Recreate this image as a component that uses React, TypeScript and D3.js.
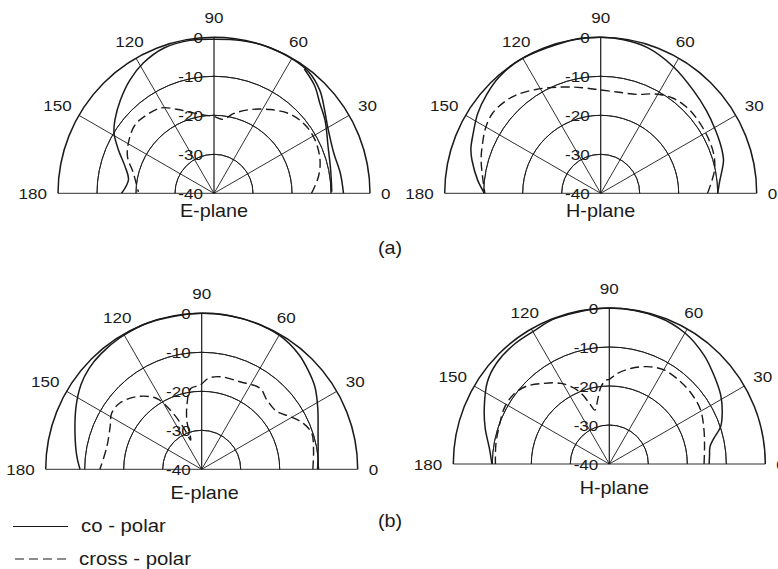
import React from "react";
import * as d3 from "d3";

// ---------- data ----------
const angleTicks = [0, 30, 60, 90, 120, 150, 180];
const ringTicks = [0, -10, -20, -30, -40];
const planeLabels = ["E-plane", "H-plane", "E-plane", "H-plane"];
const caseLabels = ["(a)", "(b)"];
const legendLabels = ["co - polar", "cross - polar"];

// [angle (deg), level (dB)]
const eaCo: [number, number][] = [
  [0, -6.8], [9, -7.2], [18.5, -7.6], [30, -6.3], [37, -4.5], [44, -2.2],
  [52, -0.5], [60, -0.1], [70, 0], [80, -0.2], [90, -0.5], [99, -0.3], [109, -0.6],
  [118.5, -2.0], [126.5, -3.8], [135, -6.1], [143.5, -8.4], [149, -10.1], [155.6, -13.1],
  [163.3, -16.2], [171, -17.8], [180, -16.3],
];
const eaCoInner: [number, number][] = [
  [0.8, -9.8], [11.3, -9.5], [22.2, -8.4], [33.4, -5.9], [40.3, -4.4], [47, -2.2], [54, -0.6],
];
const eaX: [number, number][] = [
  [0, -15], [9, -12.9], [17.5, -11.5], [28, -10.7], [37, -10.8], [46, -11.8], [56, -14.1],
  [67, -16.7], [76, -18.9], [83, -20.9], [90, -20.3], [97, -19.8], [104, -18.8], [114, -16.4],
  [122, -14.2], [131, -13.5], [139, -13.2], [148, -14.3], [157, -15.9], [166, -18.7], [179, -20.6],
];
const haCo: [number, number][] = [
  [0, -10], [6, -9.3], [10, -8.5], [15, -7.4], [21, -6.9], [29, -6.4], [38, -5.6], [48, -4.5],
  [60, -2.6], [72, -0.8], [82, -0.2], [90, 0], [100, 0], [121, 0], [131, -0.4], [139, -1.3],
  [147, -2.4], [155, -3.9], [161, -4.8], [165.5, -5.9], [174, -8.3], [180, -10.2],
];
const haX: [number, number][] = [
  [0, -12.6], [11.6, -10.2], [19.5, -9.3], [28, -9.0], [37, -8.8], [45, -8.8], [53, -9.4],
  [61, -10.9], [70, -13], [81, -13.7], [90, -13.5], [100, -12.5], [110, -11], [122, -8.6],
  [131, -6.7], [137, -5.9], [143.5, -5.5], [150, -6.0], [157, -7.1], [164, -8.1], [172, -9.4],
  [180, -10.3],
];
const ebCo: [number, number][] = [
  [0, -10.3], [6, -10], [17, -8.8], [28, -6.3], [36, -4.1], [43, -2.7], [50, -1.4], [60, -0.3],
  [75, 0], [90, 0], [110, 0], [122, -0.3], [131, -0.7], [138, -1.2], [145, -2.2], [153.5, -4],
  [164, -6.2], [174, -7.8], [180, -8.8],
];
const ebX: [number, number][] = [
  [0, -11.5], [9.8, -10.9], [18, -10.3], [24.3, -11.4], [30.8, -13.6], [37.6, -15.7],
  [46.8, -15.6], [54.2, -14.4], [66.4, -15.5], [78.8, -15.8], [85.8, -16.6], [91, -18.4],
  [97.7, -19.1], [102.5, -22.7], [107, -27], [110.5, -32], [113.5, -28.5], [117, -23.9],
  [122.4, -18.5], [131.8, -15], [141, -13], [148, -12.8], [155, -14.1], [166.6, -15], [180, -13.9],
];
const hbCo: [number, number][] = [
  [0, -14.4], [5, -14.2], [9.8, -13.8], [13.8, -12.4], [18.5, -9.9], [24.8, -8.1], [31.8, -6.4],
  [40.4, -4.8], [49, -3], [60, -1.2], [72, -0.3], [90, 0], [110, -0.2], [120, -0.8], [128, -0.8],
  [138, -1.2], [146, -2.3], [156, -4.9], [164, -6.9], [172.6, -9], [180, -9.9],
];
const hbX: [number, number][] = [
  [0, -15.7], [11.3, -15.1], [20.6, -14.1], [30.6, -12.8], [39.7, -12.3], [49.1, -12.1],
  [59.8, -12.1], [68.7, -13.2], [77.4, -14.9], [85, -16.7], [90, -18.3], [92.3, -18.5],
  [96.2, -20.1], [100.3, -23.3], [105, -25.7], [108.2, -23.6], [111.1, -21], [114.8, -18.6],
  [120.9, -15.9], [129.6, -13.2], [137.1, -10.8], [144.5, -9.6], [152, -9.5], [162, -10.2],
  [170.5, -10.5], [180, -10.8],
];

// ---------- layout ----------
const W = 778;
const H = 569;
const R = 156;
const INK = "#1a1a1a";
const FONT = "'Liberation Sans', Arial, Helvetica, sans-serif";

const panels = [
  { cx: 214, cy: 193.3, co: [eaCo, eaCoInner], x: eaX, label: planeLabels[0], ly: 24, lx: 0 },
  { cx: 600.7, cy: 193.3, co: [haCo], x: haX, label: planeLabels[1], ly: 24, lx: 0 },
  { cx: 201.7, cy: 469.3, co: [ebCo], x: ebX, label: planeLabels[2], ly: 30, lx: 3 },
  { cx: 609.3, cy: 464, co: [hbCo], x: hbX, label: planeLabels[3], ly: 30, lx: 5 },
];

const rScale = d3.scaleLinear().domain([-40, 0]).range([0, R]);
const toRad = (deg: number) => (deg * Math.PI) / 180;

const radial = d3
  .lineRadial<[number, number]>()
  .angle((d) => Math.PI / 2 - toRad(d[0]))
  .radius((d) => rScale(d[1]))
  .curve(d3.curveCatmullRom.alpha(0.5));

const arc = (r: number) =>
  d3.arc()({ innerRadius: r, outerRadius: r, startAngle: -Math.PI / 2, endAngle: Math.PI / 2 }) as string;

function T(props: {
  x: number; y: number; size: number; anchor?: string; children: React.ReactNode; sx?: number;
}) {
  const { x, y, size, anchor = "middle", children, sx = 1.1 } = props;
  return (
    <text
      transform={`translate(${x},${y}) scale(${sx},1)`}
      textAnchor={anchor}
      fontSize={size}
      fontFamily={FONT}
      fill={INK}
    >
      {children}
    </text>
  );
}

function Panel({ p }: { p: (typeof panels)[number] }) {
  const { cx, cy } = p;
  const tickSize = 15.5;
  return (
    <g transform={`translate(${cx},${cy})`}>
      {ringTicks.slice(1, 4).map((t) => (
        <path key={t} d={arc(rScale(t))} fill="none" stroke={INK} strokeWidth={0.9} />
      ))}
      {angleTicks.map((a) => (
        <line
          key={a}
          x1={0}
          y1={0}
          x2={R * Math.cos(toRad(a))}
          y2={-R * Math.sin(toRad(a))}
          stroke={INK}
          strokeWidth={a === 90 ? 1.2 : 0.9}
        />
      ))}
      <path d={arc(R)} fill="none" stroke={INK} strokeWidth={1.5} />
      <path d={radial(p.x) as string} fill="none" stroke={INK} strokeWidth={1.4} strokeDasharray="9 4.5" />
      {p.co.map((s, i) => (
        <path key={i} d={radial(s) as string} fill="none" stroke={INK} strokeWidth={1.5} />
      ))}
      {ringTicks.map((t) => (
        <T key={t} x={-11} y={-rScale(t) + 5.5} size={tickSize} anchor="end">
          {t}
        </T>
      ))}
      {angleTicks.map((a) => {
        const c = Math.cos(toRad(a));
        const s = Math.sin(toRad(a));
        if (a === 0)
          return (
            <T key={a} x={R + 11} y={5.5} size={tickSize} anchor="start">{a}</T>
          );
        if (a === 180)
          return (
            <T key={a} x={-R - 11} y={5.5} size={tickSize} anchor="end">{a}</T>
          );
        const rr = a === 90 ? R + 20 : R + 19;
        const shift = a === 150 ? -5 : a === 30 ? 2 : a === 60 ? -3 : a === 120 ? 3 : 0;
        return (
          <T key={a} x={rr * c + shift} y={-rr * s + 5.5} size={tickSize}>
            {a}
          </T>
        );
      })}
      <T x={p.lx} y={p.ly} size={18}>{p.label}</T>
    </g>
  );
}

export default function App() {
  return (
    <svg
      width={W}
      height={H}
      viewBox={`0 0 ${W} ${H}`}
      style={{ position: "absolute", left: 0, top: 0, background: "#fff", display: "block" }}
    >
      <rect width={W} height={H} fill="#fff" />
      {panels.map((p, i) => (
        <Panel key={i} p={p} />
      ))}
      <T x={390} y={254} size={18}>{caseLabels[0]}</T>
      <T x={390} y={527} size={18}>{caseLabels[1]}</T>
      <line x1={13} x2={68} y1={526.5} y2={526.5} stroke={INK} strokeWidth={1} />
      <T x={81} y={532} size={18.5} anchor="start">{legendLabels[0]}</T>
      <line x1={15} x2={68} y1={559} y2={559} stroke={INK} strokeWidth={1} strokeDasharray="9 5" />
      <T x={79} y={565} size={18.5} anchor="start">{legendLabels[1]}</T>
    </svg>
  );
}
